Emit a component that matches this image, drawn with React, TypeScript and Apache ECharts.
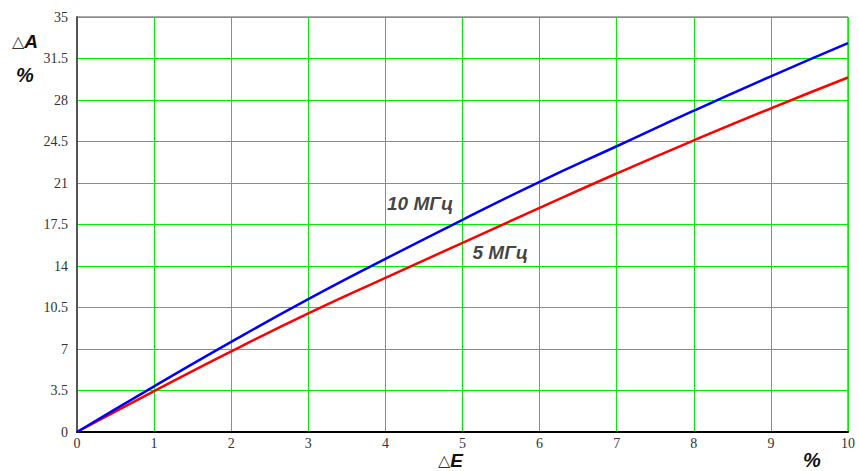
import React, { useEffect, useRef } from "react";
import * as echarts from "echarts";

const xValues = [0, 1, 2, 3, 4, 5, 6, 7, 8, 9, 10];
const series10MHz = [0, 3.85, 7.6, 11.2, 14.6, 17.9, 21.1, 24.1, 27.1, 30.0, 32.8];
const series5MHz = [0, 3.45, 6.8, 10.0, 13.0, 15.95, 18.9, 21.8, 24.6, 27.3, 29.9];
const yTicks = [0, 3.5, 7, 10.5, 14, 17.5, 21, 24.5, 28, 31.5, 35];
const curveLabels = [
  { name: "10 МГц", x: 4.45, y: 19.3 },
  { name: "5 МГц", x: 5.49, y: 15.15 },
];

export default function App() {
  const ref = useRef<HTMLDivElement>(null);
  useEffect(() => {
    if (!ref.current) return;
    const chart = echarts.init(ref.current, null, { renderer: "svg" });
    const labelFont = { fontFamily: "Liberation Sans", fontWeight: "bold", fontStyle: "italic", fontSize: 19, color: "#111" };
    const rich = {
      t: { fontFamily: "DejaVu Sans", fontSize: 16, fill: "#333", verticalAlign: "bottom", lineHeight: 16 },
      a: { fontFamily: "Liberation Sans", fontWeight: "bold", fontStyle: "italic", fontSize: 19, fill: "#111", lineHeight: 16 },
    };
    const serif = "Liberation Serif, DejaVu Serif, serif";
    chart.setOption({
      animation: false,
      backgroundColor: "#fff",
      grid: { left: 77, top: 17, right: 11, bottom: 39, show: true, borderColor: "#555", borderWidth: 1 },
      xAxis: {
        type: "value",
        min: 0,
        max: 10,
        interval: 1,
        axisLine: { show: true, lineStyle: { color: "#000", width: 2 } },
        axisTick: { show: false },
        axisLabel: { color: "#333", fontFamily: serif, fontSize: 14, margin: 4, lineHeight: 14 },
        splitLine: { show: true, lineStyle: { color: "#00ee00", width: 1 } },
      },
      yAxis: {
        type: "value",
        min: 0,
        max: 35,
        interval: 3.5,
        axisLine: { show: true, lineStyle: { color: "#555", width: 2 } },
        axisTick: { show: false },
        axisLabel: {
          color: "#333",
          fontFamily: serif,
          fontSize: 14,
          margin: 9,
          formatter: (v: number) => (yTicks.includes(v) ? String(v) : ""),
        },
        splitLine: { show: true, lineStyle: { color: "#00ee00", width: 1 } },
      },
      series: [
        {
          name: "10 МГц",
          type: "line",
          smooth: true,
          symbol: "none",
          data: xValues.map((x, i) => [x, series10MHz[i]]),
          lineStyle: { color: "#0000ff", width: 2.5 },
          z: 3,
        },
        {
          name: "5 МГц",
          type: "line",
          smooth: true,
          symbol: "none",
          data: xValues.map((x, i) => [x, series5MHz[i]]),
          lineStyle: { color: "#ff0000", width: 2.5 },
          z: 2,
        },
        {
          type: "scatter",
          symbolSize: 0,
          data: curveLabels.map((l) => ({ value: [l.x, l.y], name: l.name })),
          label: { show: true, position: "inside", formatter: "{b}", ...labelFont },
          silent: true,
          z: 5,
        },
      ],
      graphic: [
        {
          type: "text",
          left: 12,
          top: 32,
          style: { text: "{t|△}{a|A}", rich },
        },
        {
          type: "text",
          left: 16,
          top: 65,
          style: { text: "%", fontFamily: "Liberation Sans", fontWeight: "bold", fontStyle: "italic", fontSize: 20, fill: "#111" },
        },
        {
          type: "text",
          left: 438,
          top: 451,
          style: { text: "{t|△}{a|E}", rich },
        },
        {
          type: "text",
          left: 803,
          top: 450,
          style: { text: "%", fontFamily: "Liberation Sans", fontWeight: "bold", fontStyle: "italic", fontSize: 20, fill: "#111" },
        },
      ],
    });
    return () => chart.dispose();
  }, []);
  return <div ref={ref} style={{ width: 859, height: 471, position: "absolute", left: 0, top: 0 }} />;
}
